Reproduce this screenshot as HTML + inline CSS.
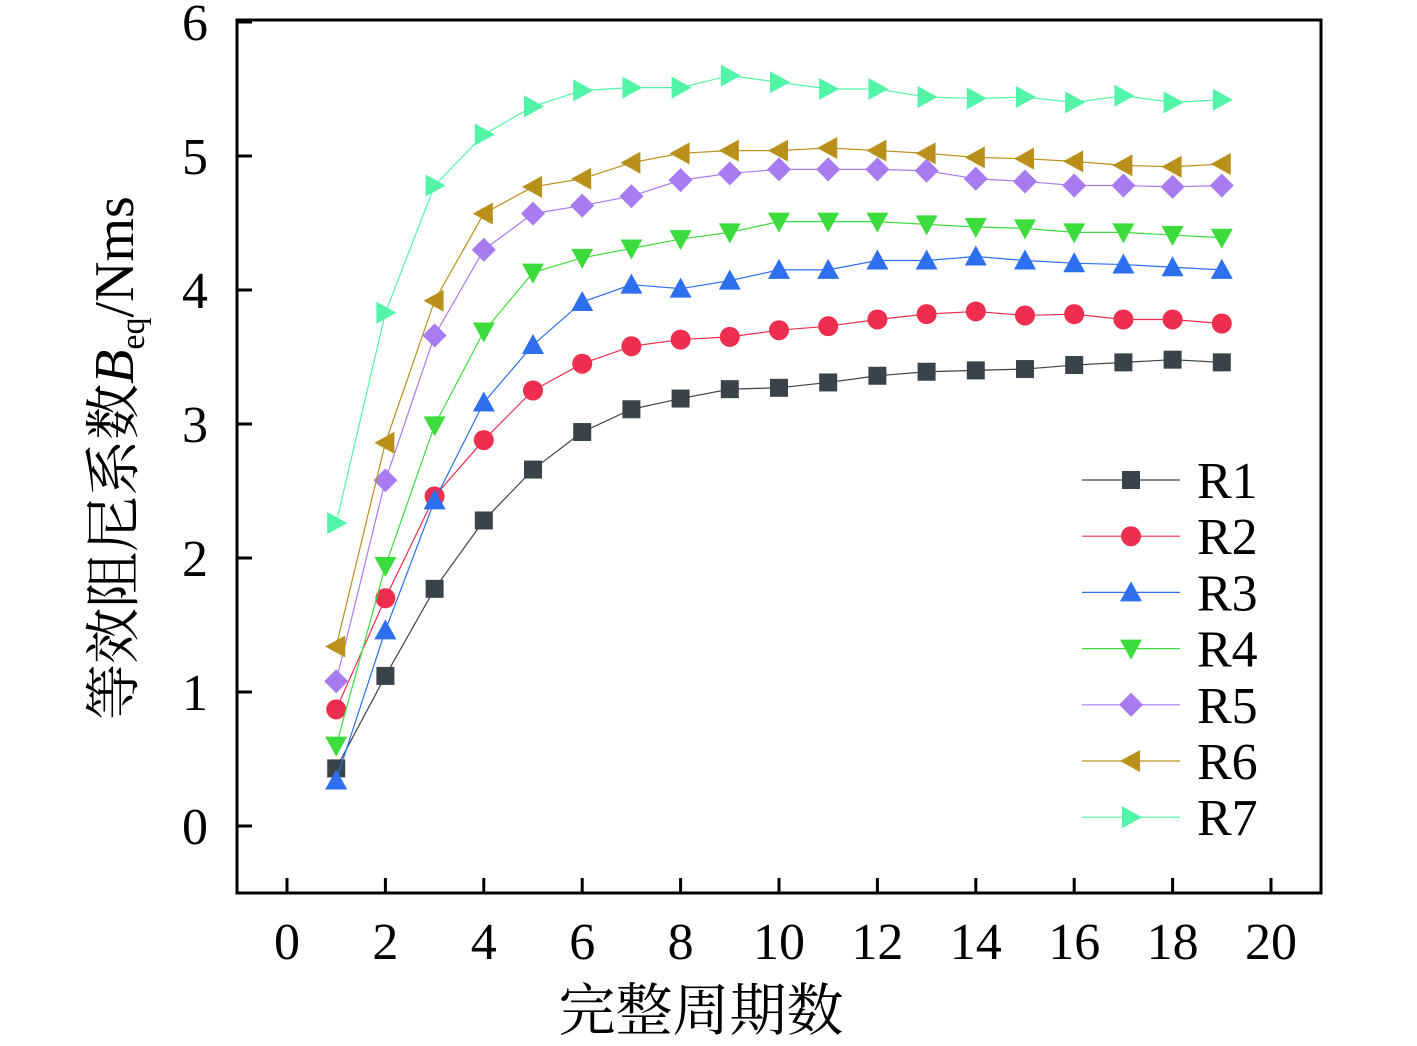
<!DOCTYPE html>
<html><head><meta charset="utf-8"><style>
html,body{margin:0;padding:0;background:#fff;}
svg{display:block;}
text{font-family:"Liberation Serif","Times New Roman","Noto Serif CJK SC",serif;}
</style></head><body>
<svg id="chart" width="1417" height="1046">
<rect x="237" y="20" width="1084" height="873" fill="none" stroke="#000" stroke-width="3"/>
<g id="axes"></g><g id="series"></g><g id="legend"></g>
<text x="701" y="1030" text-anchor="middle" font-size="57">完整周期数</text>
<text transform="translate(133,458) rotate(-90)" text-anchor="middle" font-size="56">等效阻尼系数<tspan font-style="italic">B</tspan><tspan font-size="34" dy="11">eq</tspan><tspan dy="-11">/Nms</tspan></text>
</svg>
<script>
const cycles=[1,2,3,4,5,6,7,8,9,10,11,12,13,14,15,16,17,18,19];
const seriesNames=["R1","R2","R3","R4","R5","R6","R7"];
const r1=[0.43,1.12,1.77,2.28,2.66,2.94,3.11,3.19,3.26,3.27,3.31,3.36,3.39,3.40,3.41,3.44,3.46,3.48,3.46];
const r2=[0.87,1.70,2.46,2.88,3.25,3.45,3.58,3.63,3.65,3.70,3.73,3.78,3.82,3.84,3.81,3.82,3.78,3.78,3.75];
const r3=[0.34,1.46,2.43,3.16,3.59,3.91,4.04,4.01,4.07,4.15,4.15,4.22,4.22,4.25,4.22,4.20,4.19,4.17,4.15];
const r4=[0.60,1.94,2.99,3.69,4.13,4.24,4.31,4.38,4.43,4.51,4.51,4.51,4.49,4.47,4.46,4.43,4.43,4.41,4.39];
const r5=[1.08,2.58,3.66,4.30,4.57,4.63,4.70,4.82,4.87,4.90,4.90,4.90,4.89,4.83,4.81,4.78,4.78,4.77,4.78];
const r6=[1.34,2.86,3.92,4.57,4.77,4.83,4.95,5.02,5.04,5.04,5.06,5.04,5.02,4.99,4.98,4.96,4.93,4.92,4.94];
const r7=[2.26,3.83,4.78,5.16,5.37,5.49,5.51,5.51,5.60,5.55,5.50,5.50,5.44,5.43,5.44,5.40,5.45,5.40,5.42];
const xTicks=[0,2,4,6,8,10,12,14,16,18,20];
const yTicks=[0,1,2,3,4,5,6];
const allSeries=[r1,r2,r3,r4,r5,r6,r7];
const colors=["#3a4448","#ee2e4e","#2e6ff0","#3ddc3d","#a87cf0","#b8901a","#52f5a8"];
const shapes=["square","circle","up","down","diamond","left","right"];
const NS="http://www.w3.org/2000/svg";
const xs=v=>287+v*49.2, ys=v=>826-v*134;
function el(t,a,p){const e=document.createElementNS(NS,t);for(const k in a)e.setAttribute(k,a[k]);p.appendChild(e);return e;}
const axes=document.getElementById('axes');
xTicks.forEach(t=>{
 const l=el('line',{x1:xs(t),x2:xs(t),y1:893,y2:878,stroke:'#000','stroke-width':3},axes);
 
 
 const tx=el('text',{x:xs(t),y:959,'text-anchor':'middle','font-size':52},axes);tx.textContent=t;
 
 
});
yTicks.forEach(t=>{
 const l=el('line',{x1:237,x2:252,y1:ys(t),y2:ys(t),stroke:'#000','stroke-width':3},axes);
 
 
 const tx=el('text',{x:208,y:ys(t)+18,'text-anchor':'end','font-size':52},axes);tx.textContent=t;
 
 
});
function marker(s,x,y,c,p){
 let e;
 if(s==='square')e=el('rect',{x:x-9,y:y-9,width:18,height:18,fill:c},p);
 else if(s==='circle')e=el('circle',{cx:x,cy:y,r:10,fill:c},p);
 else{let pts;
  if(s==='up')pts=[[0,-11],[11,9],[-11,9]];
  else if(s==='down')pts=[[0,11],[11,-9],[-11,-9]];
  else if(s==='diamond')pts=[[0,-12],[12,0],[0,12],[-12,0]];
  else if(s==='left')pts=[[-11,0],[9,-11],[9,11]];
  else pts=[[11,0],[-9,-11],[-9,11]];
  e=el('polygon',{points:pts.map(q=>(x+q[0])+','+(y+q[1])).join(' '),fill:c},p);}
 return e;
}
const sg=document.getElementById('series');
allSeries.forEach((d,i)=>{
 const g=el('g',{},sg);
 
 
 const pl=el('polyline',{points:d.map((v,j)=>xs(cycles[j])+','+ys(v)).join(' '),fill:'none',stroke:colors[i],'stroke-width':1.2},g);
 
 
 d.forEach((v,j)=>{const m=marker(shapes[i],xs(cycles[j]),ys(v),colors[i],g);
  
  });
});
const lg=document.getElementById('legend');
seriesNames.forEach((n,i)=>{
 const y=480+i*56.2;
 const g=el('g',{},lg);
 
 
 el('line',{x1:1082,x2:1180,y1:y,y2:y,stroke:colors[i],'stroke-width':1.2},g);
 marker(shapes[i],1131,y,colors[i],g);
 const t=el('text',{x:1197,y:y+18,'font-size':52},g);t.textContent=n;
});
</script>
</body></html>
